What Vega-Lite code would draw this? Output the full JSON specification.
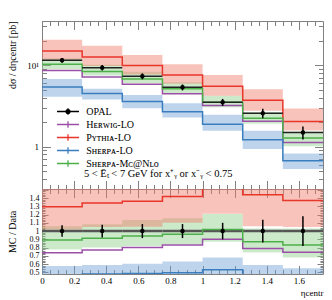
{
  "$schema": "https://vega.github.io/schema/vega-lite/v6.json",
  "padding": {"left": 6, "top": 20, "right": 0, "bottom": 0},
  "spacing": 0,
  "bounds": "flush",
  "config": {
    "font": "Liberation Serif",
    "view": {"stroke": "#808080", "strokeWidth": 1},
    "axis": {"domain": false, "grid": false, "tickColor": "#808080", "tickWidth": 1, "labelFont": "Liberation Serif", "labelFontSize": 9, "labelColor": "#000000", "titleFont": "Liberation Serif", "titleFontSize": 10, "titleFontWeight": "normal", "titleColor": "#000000", "labelFlush": false, "labelOverlap": false}
  },
  "datasets": {
    "mc": [
      {"k": "py", "s": "Pʏᴛʜɪᴀ-LO", "x": 0, "v": 15.0, "lo": 11.7, "hi": 20.6, "r": 1.296, "rlo": 1.02, "rhi": 1.8},
      {"k": "py", "s": "Pʏᴛʜɪᴀ-LO", "x": 0.25, "v": 12.6, "lo": 9.8, "hi": 17.4, "r": 1.339, "rlo": 1.05, "rhi": 1.86},
      {"k": "py", "s": "Pʏᴛʜɪᴀ-LO", "x": 0.5, "v": 9.9, "lo": 7.7, "hi": 13.4, "r": 1.363, "rlo": 1.052, "rhi": 1.83},
      {"k": "py", "s": "Pʏᴛʜɪᴀ-LO", "x": 0.75, "v": 7.57, "lo": 5.9, "hi": 10.3, "r": 1.42, "rlo": 1.1, "rhi": 1.93},
      {"k": "py", "s": "Pʏᴛʜɪᴀ-LO", "x": 1.0, "v": 5.52, "lo": 4.2, "hi": 7.6, "r": 1.57, "rlo": 1.21, "rhi": 2.17},
      {"k": "py", "s": "Pʏᴛʜɪᴀ-LO", "x": 1.25, "v": 3.71, "lo": 2.75, "hi": 5.07, "r": 1.44, "rlo": 1.06, "rhi": 1.97},
      {"k": "py", "s": "Pʏᴛʜɪᴀ-LO", "x": 1.5, "v": 2.03, "lo": 1.57, "hi": 2.93, "r": 1.37, "rlo": 1.05, "rhi": 1.97},
      {"k": "py", "s": "Pʏᴛʜɪᴀ-LO", "x": 1.75, "v": 2.03, "lo": 1.57, "hi": 2.93, "r": 1.37, "rlo": 1.05, "rhi": 1.97},
      {"k": "hw", "s": "Hᴇʀᴡɪɢ-LO", "x": 0, "v": 8.6, "r": 0.738},
      {"k": "hw", "s": "Hᴇʀᴡɪɢ-LO", "x": 0.25, "v": 7.18, "r": 0.77},
      {"k": "hw", "s": "Hᴇʀᴡɪɢ-LO", "x": 0.5, "v": 5.85, "r": 0.8},
      {"k": "hw", "s": "Hᴇʀᴡɪɢ-LO", "x": 0.75, "v": 4.46, "r": 0.83},
      {"k": "hw", "s": "Hᴇʀᴡɪɢ-LO", "x": 1.0, "v": 3.2, "r": 0.9},
      {"k": "hw", "s": "Hᴇʀᴡɪɢ-LO", "x": 1.25, "v": 2.05, "r": 0.79},
      {"k": "hw", "s": "Hᴇʀᴡɪɢ-LO", "x": 1.5, "v": 1.12, "r": 0.745},
      {"k": "hw", "s": "Hᴇʀᴡɪɢ-LO", "x": 1.75, "v": 1.12, "r": 0.745},
      {"k": "sl", "s": "Sʜᴇʀᴘᴀ-LO", "x": 0, "v": 5.41, "lo": 4.08, "hi": 6.79, "r": 0.47, "rlo": 0.35, "rhi": 0.576},
      {"k": "sl", "s": "Sʜᴇʀᴘᴀ-LO", "x": 0.25, "v": 4.48, "lo": 3.78, "hi": 5.12, "r": 0.48, "rlo": 0.4, "rhi": 0.588},
      {"k": "sl", "s": "Sʜᴇʀᴘᴀ-LO", "x": 0.5, "v": 3.57, "lo": 2.96, "hi": 4.3, "r": 0.487, "rlo": 0.4, "rhi": 0.605},
      {"k": "sl", "s": "Sʜᴇʀᴘᴀ-LO", "x": 0.75, "v": 2.68, "lo": 2.27, "hi": 3.4, "r": 0.495, "rlo": 0.42, "rhi": 0.63},
      {"k": "sl", "s": "Sʜᴇʀᴘᴀ-LO", "x": 1.0, "v": 1.88, "lo": 1.56, "hi": 2.45, "r": 0.53, "rlo": 0.45, "rhi": 0.68},
      {"k": "sl", "s": "Sʜᴇʀᴘᴀ-LO", "x": 1.25, "v": 1.21, "lo": 0.93, "hi": 1.56, "r": 0.47, "rlo": 0.36, "rhi": 0.59},
      {"k": "sl", "s": "Sʜᴇʀᴘᴀ-LO", "x": 1.5, "v": 0.67, "lo": 0.53, "hi": 0.82, "r": 0.45, "rlo": 0.36, "rhi": 0.55},
      {"k": "sl", "s": "Sʜᴇʀᴘᴀ-LO", "x": 1.75, "v": 0.67, "lo": 0.53, "hi": 0.82, "r": 0.45, "rlo": 0.36, "rhi": 0.55},
      {"k": "sm", "s": "Sʜᴇʀᴘᴀ-Mᴄ@Nʟᴏ", "x": 0, "v": 10.3, "lo": 8.92, "hi": 12.19, "r": 0.893, "rlo": 0.776, "rhi": 1.06},
      {"k": "sm", "s": "Sʜᴇʀᴘᴀ-Mᴄ@Nʟᴏ", "x": 0.25, "v": 8.4, "lo": 7.47, "hi": 10.12, "r": 0.912, "rlo": 0.8, "rhi": 1.083},
      {"k": "sm", "s": "Sʜᴇʀᴘᴀ-Mᴄ@Nʟᴏ", "x": 0.5, "v": 6.75, "lo": 6.01, "hi": 8.31, "r": 0.94, "rlo": 0.82, "rhi": 1.134},
      {"k": "sm", "s": "Sʜᴇʀᴘᴀ-Mᴄ@Nʟᴏ", "x": 0.75, "v": 5.12, "lo": 4.49, "hi": 6.18, "r": 0.963, "rlo": 0.84, "rhi": 1.156},
      {"k": "sm", "s": "Sʜᴇʀᴘᴀ-Mᴄ@Nʟᴏ", "x": 1.0, "v": 3.5, "lo": 3.05, "hi": 4.22, "r": 1.02, "rlo": 0.87, "rhi": 1.207},
      {"k": "sm", "s": "Sʜᴇʀᴘᴀ-Mᴄ@Nʟᴏ", "x": 1.25, "v": 2.23, "lo": 1.9, "hi": 2.65, "r": 0.87, "rlo": 0.74, "rhi": 1.03},
      {"k": "sm", "s": "Sʜᴇʀᴘᴀ-Mᴄ@Nʟᴏ", "x": 1.5, "v": 1.27, "lo": 1.01, "hi": 1.53, "r": 0.83, "rlo": 0.68, "rhi": 1.03},
      {"k": "sm", "s": "Sʜᴇʀᴘᴀ-Mᴄ@Nʟᴏ", "x": 1.75, "v": 1.27, "lo": 1.01, "hi": 1.53, "r": 0.83, "rlo": 0.68, "rhi": 1.03}
    ],
    "opal": [
      {"xc": 0.125, "xlo": 0, "xhi": 0.25, "v": 11.5, "lo": 10.7, "hi": 12.3, "rlo": 0.93, "rhi": 1.07},
      {"xc": 0.375, "xlo": 0.25, "xhi": 0.5, "v": 9.34, "lo": 8.61, "hi": 10.07, "rlo": 0.922, "rhi": 1.078},
      {"xc": 0.625, "xlo": 0.5, "xhi": 0.75, "v": 7.33, "lo": 6.71, "hi": 7.95, "rlo": 0.915, "rhi": 1.085},
      {"xc": 0.875, "xlo": 0.75, "xhi": 1.0, "v": 5.35, "lo": 4.9, "hi": 5.8, "rlo": 0.915, "rhi": 1.085},
      {"xc": 1.125, "xlo": 1.0, "xhi": 1.25, "v": 3.5, "lo": 3.15, "hi": 3.85, "rlo": 0.9, "rhi": 1.1},
      {"xc": 1.375, "xlo": 1.25, "xhi": 1.5, "v": 2.57, "lo": 2.22, "hi": 2.92, "rlo": 0.863, "rhi": 1.137},
      {"xc": 1.625, "xlo": 1.5, "xhi": 1.75, "v": 1.49, "lo": 1.22, "hi": 1.76, "rlo": 0.82, "rhi": 1.18}
    ]
  },
  "resolve": {"scale": {"color": "shared"}, "legend": {"color": "shared"}},
  "vconcat": [
    {
      "width": 281,
      "height": 168,
      "resolve": {"axis": {"x": "independent", "y": "independent"}},
      "layer": [
        {
          "data": {"name": "mc"},
          "transform": [{"filter": {"field": "k", "equal": "sm"}}],
          "mark": {"type": "area", "interpolate": "step-after", "color": "#8fd18a", "opacity": 0.45},
          "encoding": {
            "x": {"field": "x", "type": "quantitative", "scale": {"domain": [0, 1.75], "nice": false, "zero": false},
              "axis": {"orient": "bottom", "values": [0,0.05,0.1,0.15,0.2,0.25,0.3,0.35,0.4,0.45,0.5,0.55,0.6,0.65,0.7,0.75,0.8,0.85,0.9,0.95,1,1.05,1.1,1.15,1.2,1.25,1.3,1.35,1.4,1.45,1.5,1.55,1.6,1.65,1.7], "labels": false, "title": null,
                "tickSize": {"condition": {"test": "round(datum.value*20)%4==0", "value": -8.5}, "value": -4.5}}},
            "y": {"field": "lo", "type": "quantitative", "stack": null, "scale": {"type": "log", "domain": [0.3, 35], "nice": false},
              "axis": {"orient": "left", "values": [0.3,0.4,0.5,0.6,0.7,0.8,0.9,1,2,3,4,5,6,7,8,9,10,20,30],
                "labelExpr": "datum.value==10 ? '10¹' : (datum.value==1 ? '1' : '')", "labelPadding": 12,
                "tickSize": {"condition": {"test": "datum.value==1 || datum.value==10", "value": -8.5}, "value": -4.5},
                "title": "dσ / dηcentr [pb]", "titleAnchor": "end", "titleX": -30, "titleBaseline": "middle"}},
            "y2": {"field": "hi"}
          }
        },
        {
          "data": {"name": "mc"},
          "transform": [{"filter": {"field": "k", "equal": "sl"}}],
          "mark": {"type": "area", "interpolate": "step-after", "color": "#6fa0d8", "opacity": 0.45},
          "encoding": {
            "x": {"field": "x", "type": "quantitative", "scale": {"domain": [0, 1.75], "nice": false, "zero": false},
              "axis": {"orient": "top", "values": [0,0.05,0.1,0.15,0.2,0.25,0.3,0.35,0.4,0.45,0.5,0.55,0.6,0.65,0.7,0.75,0.8,0.85,0.9,0.95,1,1.05,1.1,1.15,1.2,1.25,1.3,1.35,1.4,1.45,1.5,1.55,1.6,1.65,1.7], "labels": false, "title": null,
                "tickSize": {"condition": {"test": "round(datum.value*20)%4==0", "value": -8.5}, "value": -4.5}}},
            "y": {"field": "lo", "type": "quantitative", "stack": null, "scale": {"type": "log", "domain": [0.3, 35], "nice": false},
              "axis": {"orient": "right", "values": [0.3,0.4,0.5,0.6,0.7,0.8,0.9,1,2,3,4,5,6,7,8,9,10,20,30], "labels": false, "title": null,
                "tickSize": {"condition": {"test": "datum.value==1 || datum.value==10", "value": -8.5}, "value": -4.5}}},
            "y2": {"field": "hi"}
          }
        },
        {
          "data": {"name": "mc"},
          "transform": [{"filter": {"field": "k", "equal": "py"}}],
          "mark": {"type": "area", "interpolate": "step-after", "color": "#f07a68", "opacity": 0.45},
          "encoding": {
            "x": {"field": "x", "type": "quantitative", "scale": {"domain": [0, 1.75], "nice": false, "zero": false}, "axis": null},
            "y": {"field": "lo", "type": "quantitative", "stack": null, "scale": {"type": "log", "domain": [0.3, 35], "nice": false}, "axis": null},
            "y2": {"field": "hi"}
          }
        },
        {
          "data": {"name": "mc"},
          "mark": {"type": "line", "interpolate": "step-after", "strokeWidth": 1.5},
          "encoding": {
            "x": {"field": "x", "type": "quantitative", "scale": {"domain": [0, 1.75], "nice": false, "zero": false}, "axis": null},
            "y": {"field": "v", "type": "quantitative", "scale": {"type": "log", "domain": [0.3, 35], "nice": false}, "axis": null},
            "color": {"field": "s", "type": "nominal",
              "scale": {"domain": ["OPAL", "Hᴇʀᴡɪɢ-LO", "Pʏᴛʜɪᴀ-LO", "Sʜᴇʀᴘᴀ-LO", "Sʜᴇʀᴘᴀ-Mᴄ@Nʟᴏ"], "range": ["#000000", "#9b4fa8", "#e8362b", "#3a7ebf", "#4daf4a"]},
              "legend": {"orient": "none", "legendX": 19.5, "legendY": 84, "title": null, "padding": 0, "rowPadding": -1.4,
                "labelFont": "Liberation Serif", "labelFontSize": 10, "labelOffset": 11.8, "symbolSize": 121, "symbolStrokeWidth": 1.3,
                "symbolType": "M-2,0H2M0,-0.6V0.6",
                "encode": {"symbols": {"update": {
                  "shape": {"signal": "datum.value === 'OPAL' ? 'M-2,0H2M0,-0.6V0.6M-0.35,0A0.35,0.35 0 1,0 0.35,0A0.35,0.35 0 1,0 -0.35,0' : 'M-2,0H2M0,-0.6V0.6'"},
                  "fill": {"value": "#000000"}, "opacity": {"value": 1}}}}}}
          }
        },
        {
          "data": {"name": "opal"},
          "mark": {"type": "rule", "color": "#222222", "strokeWidth": 1.5},
          "encoding": {
            "x": {"field": "xlo", "type": "quantitative", "scale": {"domain": [0, 1.75], "nice": false, "zero": false}, "axis": null},
            "x2": {"field": "xhi"},
            "y": {"field": "v", "type": "quantitative", "scale": {"type": "log", "domain": [0.3, 35], "nice": false}, "axis": null}
          }
        },
        {
          "data": {"name": "opal"},
          "mark": {"type": "rule", "color": "#000000", "strokeWidth": 1.5},
          "encoding": {
            "x": {"field": "xc", "type": "quantitative", "scale": {"domain": [0, 1.75], "nice": false, "zero": false}, "axis": null},
            "y": {"field": "lo", "type": "quantitative", "scale": {"type": "log", "domain": [0.3, 35], "nice": false}, "axis": null},
            "y2": {"field": "hi"}
          }
        },
        {
          "data": {"name": "opal"},
          "mark": {"type": "point", "shape": "circle", "filled": true, "color": "#000000", "opacity": 1, "size": 20},
          "encoding": {
            "x": {"field": "xc", "type": "quantitative", "scale": {"domain": [0, 1.75], "nice": false, "zero": false}, "axis": null},
            "y": {"field": "v", "type": "quantitative", "scale": {"type": "log", "domain": [0.3, 35], "nice": false}, "axis": null}
          }
        },
        {
          "data": {"values": [{"t": "5 < Ēₜ < 7 GeV for x⁺ᵧ or x⁻ᵧ < 0.75"}]},
          "mark": {"type": "text", "align": "left", "baseline": "middle", "font": "Liberation Serif", "fontSize": 10.5, "color": "#000000"},
          "encoding": {
            "text": {"field": "t"},
            "x": {"datum": 0.261, "type": "quantitative", "scale": {"domain": [0, 1.75], "nice": false, "zero": false}, "axis": null},
            "y": {"datum": 0.46, "type": "quantitative", "scale": {"type": "log", "domain": [0.3, 35], "nice": false}, "axis": null}
          }
        }
      ]
    },
    {
      "width": 281,
      "height": 85,
      "resolve": {"axis": {"x": "independent", "y": "independent"}},
      "layer": [
        {
          "data": {"name": "mc"},
          "transform": [{"filter": {"field": "k", "equal": "sm"}}],
          "mark": {"type": "area", "interpolate": "step-after", "color": "#8fd18a", "opacity": 0.45, "clip": true},
          "encoding": {
            "x": {"field": "x", "type": "quantitative", "scale": {"domain": [0, 1.75], "nice": false, "zero": false},
              "axis": {"orient": "bottom", "values": [0,0.05,0.1,0.15,0.2,0.25,0.3,0.35,0.4,0.45,0.5,0.55,0.6,0.65,0.7,0.75,0.8,0.85,0.9,0.95,1,1.05,1.1,1.15,1.2,1.25,1.3,1.35,1.4,1.45,1.5,1.55,1.6,1.65,1.7],
                "labelExpr": "round(datum.value*20)%4==0 ? format(datum.value, '~g') : ''", "labelPadding": 11,
                "tickSize": {"condition": {"test": "round(datum.value*20)%4==0", "value": -8.5}, "value": -4.5},
                "title": "ηcentr", "titleAnchor": "end", "titleFontSize": 9, "titlePadding": -1}},
            "y": {"field": "rlo", "type": "quantitative", "stack": null, "scale": {"domain": [0.48, 1.51], "nice": false, "zero": false},
              "axis": {"orient": "left", "values": [0.5,0.52,0.54,0.56,0.58,0.6,0.62,0.64,0.66,0.68,0.7,0.72,0.74,0.76,0.78,0.8,0.82,0.84,0.86,0.88,0.9,0.92,0.94,0.96,0.98,1,1.02,1.04,1.06,1.08,1.1,1.12,1.14,1.16,1.18,1.2,1.22,1.24,1.26,1.28,1.3,1.32,1.34,1.36,1.38,1.4,1.42,1.44,1.46,1.48,1.5],
                "labelExpr": "(round(datum.value*50)%5==0 && datum.value < 1.45) ? format(datum.value, '~g') : ''", "labelPadding": 9, "labelFontSize": 8,
                "tickSize": {"condition": {"test": "round(datum.value*50)%5==0", "value": -6}, "value": -3},
                "title": "MC / Data", "titleX": -30, "titleBaseline": "middle"}},
            "y2": {"field": "rhi"}
          }
        },
        {
          "data": {"name": "mc"},
          "transform": [{"filter": {"field": "k", "equal": "sl"}}],
          "mark": {"type": "area", "interpolate": "step-after", "color": "#6fa0d8", "opacity": 0.45, "clip": true},
          "encoding": {
            "x": {"field": "x", "type": "quantitative", "scale": {"domain": [0, 1.75], "nice": false, "zero": false},
              "axis": {"orient": "top", "values": [0,0.05,0.1,0.15,0.2,0.25,0.3,0.35,0.4,0.45,0.5,0.55,0.6,0.65,0.7,0.75,0.8,0.85,0.9,0.95,1,1.05,1.1,1.15,1.2,1.25,1.3,1.35,1.4,1.45,1.5,1.55,1.6,1.65,1.7], "labels": false, "title": null,
                "tickSize": {"condition": {"test": "round(datum.value*20)%4==0", "value": -8.5}, "value": -4.5}}},
            "y": {"field": "rlo", "type": "quantitative", "stack": null, "scale": {"domain": [0.48, 1.51], "nice": false, "zero": false},
              "axis": {"orient": "right", "values": [0.5,0.52,0.54,0.56,0.58,0.6,0.62,0.64,0.66,0.68,0.7,0.72,0.74,0.76,0.78,0.8,0.82,0.84,0.86,0.88,0.9,0.92,0.94,0.96,0.98,1,1.02,1.04,1.06,1.08,1.1,1.12,1.14,1.16,1.18,1.2,1.22,1.24,1.26,1.28,1.3,1.32,1.34,1.36,1.38,1.4,1.42,1.44,1.46,1.48,1.5], "labels": false, "title": null,
                "tickSize": {"condition": {"test": "round(datum.value*50)%5==0", "value": -6}, "value": -3}}},
            "y2": {"field": "rhi"}
          }
        },
        {
          "data": {"name": "mc"},
          "transform": [{"filter": {"field": "k", "equal": "py"}}],
          "mark": {"type": "area", "interpolate": "step-after", "color": "#f07a68", "opacity": 0.45, "clip": true},
          "encoding": {
            "x": {"field": "x", "type": "quantitative", "scale": {"domain": [0, 1.75], "nice": false, "zero": false}, "axis": null},
            "y": {"field": "rlo", "type": "quantitative", "stack": null, "scale": {"domain": [0.48, 1.51], "nice": false, "zero": false}, "axis": null},
            "y2": {"field": "rhi"}
          }
        },
        {
          "data": {"name": "opal"},
          "mark": {"type": "rule", "color": "#555555", "strokeWidth": 2.5},
          "encoding": {
            "x": {"field": "xlo", "type": "quantitative", "scale": {"domain": [0, 1.75], "nice": false, "zero": false}, "axis": null},
            "x2": {"field": "xhi"},
            "y": {"datum": 1, "type": "quantitative", "scale": {"domain": [0.48, 1.51], "nice": false, "zero": false}, "axis": null}
          }
        },
        {
          "data": {"name": "mc"},
          "mark": {"type": "line", "interpolate": "step-after", "strokeWidth": 1.5, "clip": true},
          "encoding": {
            "x": {"field": "x", "type": "quantitative", "scale": {"domain": [0, 1.75], "nice": false, "zero": false}, "axis": null},
            "y": {"field": "r", "type": "quantitative", "scale": {"domain": [0.48, 1.51], "nice": false, "zero": false}, "axis": null},
            "color": {"field": "s", "type": "nominal",
              "scale": {"domain": ["OPAL", "Hᴇʀᴡɪɢ-LO", "Pʏᴛʜɪᴀ-LO", "Sʜᴇʀᴘᴀ-LO", "Sʜᴇʀᴘᴀ-Mᴄ@Nʟᴏ"], "range": ["#000000", "#9b4fa8", "#e8362b", "#3a7ebf", "#4daf4a"]},
              "legend": null}
          }
        },
        {
          "data": {"name": "opal"},
          "mark": {"type": "rule", "color": "#000000", "strokeWidth": 1.5},
          "encoding": {
            "x": {"field": "xc", "type": "quantitative", "scale": {"domain": [0, 1.75], "nice": false, "zero": false}, "axis": null},
            "y": {"field": "rlo", "type": "quantitative", "scale": {"domain": [0.48, 1.51], "nice": false, "zero": false}, "axis": null},
            "y2": {"field": "rhi"}
          }
        },
        {
          "data": {"name": "opal"},
          "mark": {"type": "point", "shape": "circle", "filled": true, "color": "#000000", "opacity": 1, "size": 20},
          "encoding": {
            "x": {"field": "xc", "type": "quantitative", "scale": {"domain": [0, 1.75], "nice": false, "zero": false}, "axis": null},
            "y": {"datum": 1, "type": "quantitative", "scale": {"domain": [0.48, 1.51], "nice": false, "zero": false}, "axis": null}
          }
        }
      ]
    }
  ]
}
